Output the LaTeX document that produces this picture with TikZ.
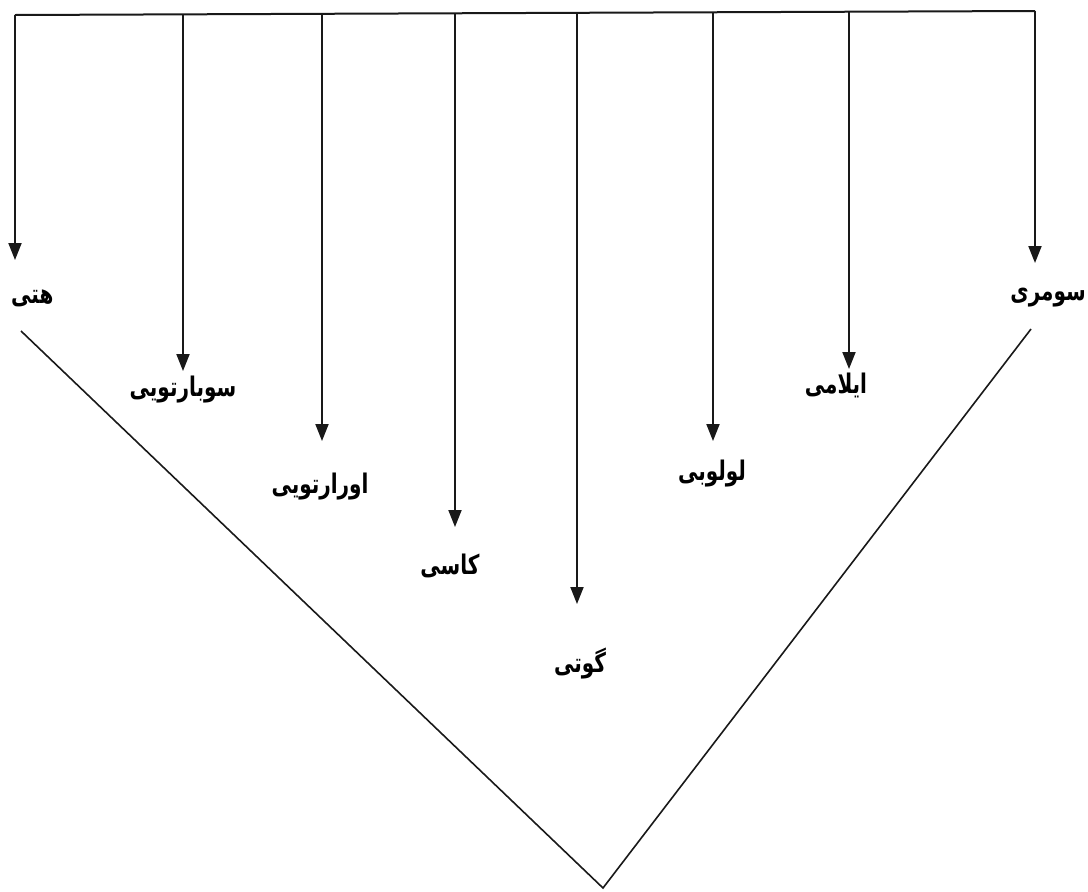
\documentclass[tikz,border=0pt]{standalone}
\usepackage{graphicx}
\usepackage{fontspec}
\newfontfamily\arabicfont[Script=Arabic]{DejaVu Sans}
\TeXXeTstate=1
\usetikzlibrary{arrows.meta}
\newcommand{\artxt}[1]{\scalebox{1}[1.35]{\arabicfont\bfseries\fontsize{20}{24}\selectfont\beginR #1\endR}}
\begin{document}
\begin{tikzpicture}[x=1pt,y=-1pt,
  line/.style={draw=black!90,line width=2pt},
  arr/.style={line,-{Triangle[length=17pt,width=13pt]}},
  lab/.style={inner sep=1pt,text=black}]
\useasboundingbox (0,0) rectangle (1088,892);
% top bar
\coordinate (t1) at (15,15);
\coordinate (t2) at (183,14.5);
\coordinate (t3) at (322,14);
\coordinate (t4) at (455,13.5);
\coordinate (t5) at (577,13);
\coordinate (t6) at (713,12.5);
\coordinate (t7) at (849,12);
\coordinate (t8) at (1035,11);
\draw[line] (t1) -- (t8);
% arrow tips
\coordinate (e1) at (15,260);
\coordinate (e2) at (183,371);
\coordinate (e3) at (322,441);
\coordinate (e4) at (455,527);
\coordinate (e5) at (577,604);
\coordinate (e6) at (713,441);
\coordinate (e7) at (849,369);
\coordinate (e8) at (1035,263);
\foreach \i in {1,...,8}{\draw[arr] (t\i) -- (e\i);}
% labels
\node[lab,anchor=west] (hatti) at (10,298) {\artxt{هتی}};
\node[lab] (subartu) at (183,390) {\artxt{سوبارتویی}};
\node[lab] (urartu) at (320,487) {\artxt{اورارتویی}};
\node[lab] (kassi) at (450,566) {\artxt{کاسی}};
\node[lab] (guti) at (580,664) {\artxt{گوتی}};
\node[lab] (lullubi) at (712,474) {\artxt{لولوبی}};
\node[lab] (elami) at (836,385) {\artxt{ایلامی}};
\node[lab,anchor=east] (sumeri) at (1087,298) {\artxt{سومری}};
% V
\coordinate (vl) at (21,331);
\coordinate (vr) at (1031,329);
\coordinate (vb) at (603,888);
\draw[line,line width=1.6pt] (vl) -- (vb) -- (vr);
\end{tikzpicture}
\end{document}
